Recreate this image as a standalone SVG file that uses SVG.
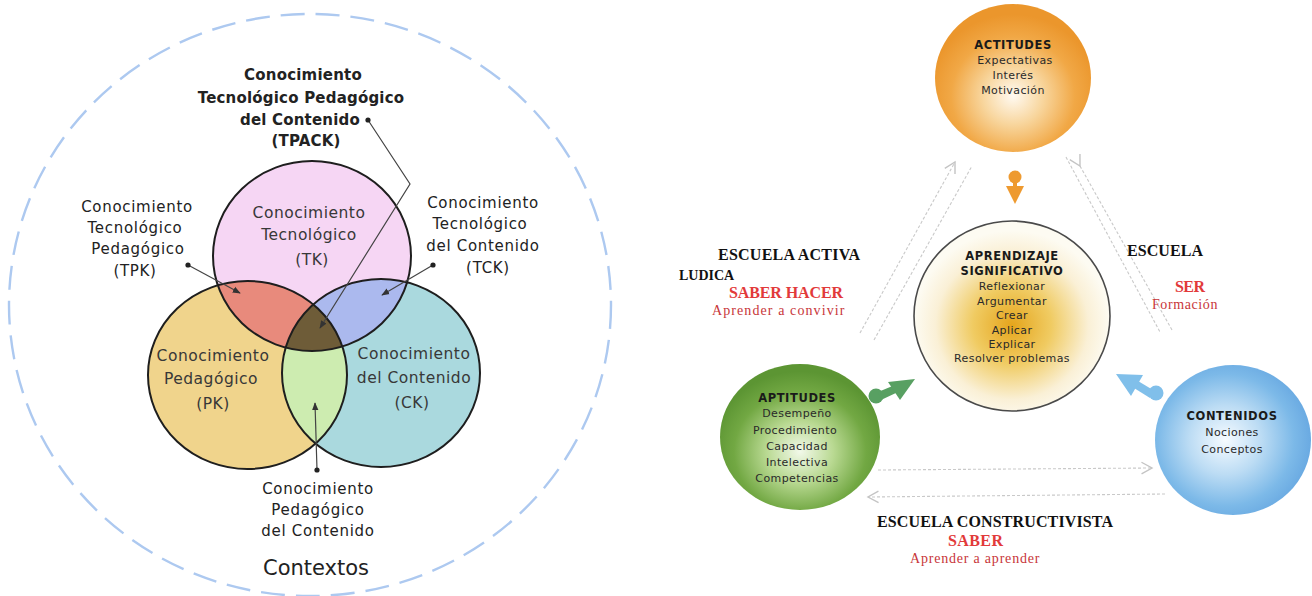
<svg xmlns="http://www.w3.org/2000/svg" width="1312" height="596" viewBox="0 0 1312 596">
  <style>
    .venn { font-family: "DejaVu Sans", "Liberation Sans", sans-serif; font-size: 15.5px; fill: #383838; text-anchor: middle; letter-spacing: 0.5px; }
    .lbl { font-family: "DejaVu Sans", "Liberation Sans", sans-serif; font-size: 15px; fill: #222; text-anchor: middle; letter-spacing: 0.7px; }
    .lblb { font-family: "DejaVu Sans", "Liberation Sans", sans-serif; font-size: 15px; font-weight: bold; fill: #222; text-anchor: middle; letter-spacing: 0.2px; }
    .ctx { font-family: "DejaVu Sans", "Liberation Sans", sans-serif; font-size: 21px; fill: #222; text-anchor: middle; }
    .edge { fill: none; stroke: #1e1e1e; stroke-width: 2; }
    .lead { fill: none; stroke: #444; stroke-width: 1.2; }
    .ntit { font-family: "DejaVu Sans", "Liberation Sans", sans-serif; font-size: 11.5px; font-weight: bold; fill: #1a1a1a; text-anchor: middle; letter-spacing: 0.6px; }
    .ntxt { font-family: "DejaVu Sans", "Liberation Sans", sans-serif; font-size: 11px; fill: #2a2a2a; text-anchor: middle; letter-spacing: 0.4px; }
    .esc { font-family: "Liberation Serif", "Times New Roman", serif; font-size: 16px; font-weight: bold; fill: #111; }
    .red { font-family: "Liberation Serif", "Times New Roman", serif; font-size: 16px; font-weight: bold; fill: #e23a3a; }
    .redt { font-family: "Liberation Serif", "Times New Roman", serif; font-size: 14px; fill: #c8363a; letter-spacing: 0.6px; }
    .band { fill: none; stroke: #c9c9c9; stroke-width: 1.1; stroke-dasharray: 3 2; }
  </style>
  <defs>
    <marker id="dot" viewBox="0 0 6 6" refX="3" refY="3" markerWidth="6" markerHeight="6" markerUnits="userSpaceOnUse">
      <circle cx="3" cy="3" r="2.6" fill="#222"/>
    </marker>
    <marker id="tip" viewBox="0 0 10 10" refX="9" refY="5" markerWidth="8" markerHeight="8" orient="auto" markerUnits="userSpaceOnUse">
      <path d="M0,1 L10,5 L0,9 Z" fill="#333"/>
    </marker>
    <marker id="open" viewBox="0 0 12 12" refX="10" refY="6" markerWidth="14" markerHeight="14" orient="auto" markerUnits="userSpaceOnUse">
      <path d="M1,1 L10,6 L1,11" fill="none" stroke="#c4c4c4" stroke-width="1.2"/>
    </marker>
    <ellipse id="eTK" cx="312" cy="256" rx="99" ry="95"/>
    <ellipse id="ePK" cx="247.5" cy="375" rx="99.5" ry="94"/>
    <ellipse id="eCK" cx="381" cy="373" rx="99" ry="94"/>
    <clipPath id="cTK"><use href="#eTK"/></clipPath>
    <clipPath id="cPK"><use href="#ePK"/></clipPath>
    <clipPath id="cCK"><use href="#eCK"/></clipPath>
    <radialGradient id="gOrange" cx="0.5" cy="0.62" r="0.55">
      <stop offset="0" stop-color="#fffaf2"/>
      <stop offset="0.35" stop-color="#f8d69e"/>
      <stop offset="0.72" stop-color="#f1a846"/>
      <stop offset="1" stop-color="#eb962c"/>
    </radialGradient>
    <radialGradient id="gGreen" cx="0.5" cy="0.6" r="0.55">
      <stop offset="0" stop-color="#f2f9ea"/>
      <stop offset="0.38" stop-color="#b9d992"/>
      <stop offset="0.75" stop-color="#72a843"/>
      <stop offset="1" stop-color="#5c9533"/>
    </radialGradient>
    <radialGradient id="gBlue" cx="0.45" cy="0.5" r="0.55">
      <stop offset="0" stop-color="#f6fbff"/>
      <stop offset="0.42" stop-color="#bcdcf4"/>
      <stop offset="0.8" stop-color="#7cb9e8"/>
      <stop offset="1" stop-color="#6aaae2"/>
    </radialGradient>
    <radialGradient id="gCore" cx="0.5" cy="0.55" r="0.5">
      <stop offset="0" stop-color="#e5a51c"/>
      <stop offset="0.4" stop-color="#f0cb62"/>
      <stop offset="0.78" stop-color="#faf0d6"/>
      <stop offset="1" stop-color="#fdfbf2"/>
    </radialGradient>
  </defs>

  <rect width="1312" height="596" fill="#ffffff"/>

  <!-- ===== TPACK model ===== -->
  <g id="contextos">
    <ellipse cx="310" cy="305" rx="301" ry="291" fill="none" stroke="#adc9f0" stroke-width="2.4" stroke-dasharray="24 11"/>
    <text class="ctx" x="316" y="575">Contextos</text>
  </g>

  <g id="venn">
    <use href="#ePK" fill="#f0d48c"/>
    <use href="#eCK" fill="#aad9de"/>
    <use href="#eTK" fill="#f6d6f4"/>
    <g clip-path="url(#cTK)"><use href="#ePK" fill="#e88a7c"/></g>
    <g clip-path="url(#cTK)"><use href="#eCK" fill="#abb9ee"/></g>
    <g clip-path="url(#cPK)"><use href="#eCK" fill="#cdecb0"/></g>
    <g clip-path="url(#cTK)"><g clip-path="url(#cPK)"><use href="#eCK" fill="#6e5c38"/></g></g>
    <use href="#ePK" class="edge"/>
    <use href="#eCK" class="edge"/>
    <use href="#eTK" class="edge"/>
  </g>

  <g id="tk">
    <text class="venn" x="309" y="218">Conocimiento</text>
    <text class="venn" x="309" y="240">Tecnológico</text>
    <text class="venn" x="312" y="265">(TK)</text>
  </g>
  <g id="pk">
    <text class="venn" x="213" y="361">Conocimiento</text>
    <text class="venn" x="211" y="384">Pedagógico</text>
    <text class="venn" x="213" y="409">(PK)</text>
  </g>
  <g id="ck">
    <text class="venn" x="414" y="359">Conocimiento</text>
    <text class="venn" x="414" y="383">del Contenido</text>
    <text class="venn" x="412" y="408">(CK)</text>
  </g>

  <g id="tpack">
    <text class="lblb" x="303" y="80">Conocimiento</text>
    <text class="lblb" x="301" y="103">Tecnológico Pedagógico</text>
    <text class="lblb" x="300" y="125">del Contenido</text>
    <text class="lblb" x="306" y="146">(TPACK)</text>
  </g>
  <g id="tpk">
    <text class="lbl" x="137" y="212">Conocimiento</text>
    <text class="lbl" x="135" y="233">Tecnológico</text>
    <text class="lbl" x="138" y="254">Pedagógico</text>
    <text class="lbl" x="135" y="276">(TPK)</text>
  </g>
  <g id="tck">
    <text class="lbl" x="483" y="208">Conocimiento</text>
    <text class="lbl" x="480" y="229">Tecnológico</text>
    <text class="lbl" x="483" y="251">del Contenido</text>
    <text class="lbl" x="488" y="273">(TCK)</text>
  </g>
  <g id="pck">
    <text class="lbl" x="318" y="494">Conocimiento</text>
    <text class="lbl" x="318" y="515">Pedagógico</text>
    <text class="lbl" x="318" y="536">del Contenido</text>
  </g>

  <g id="leaders">
    <polyline class="lead" points="368,120 410,184 320,328" marker-start="url(#dot)" marker-end="url(#tip)"/>
    <line class="lead" x1="188" y1="265" x2="240" y2="293" marker-start="url(#dot)" marker-end="url(#tip)"/>
    <line class="lead" x1="433" y1="265" x2="382" y2="295" marker-start="url(#dot)" marker-end="url(#tip)"/>
    <line class="lead" x1="317" y1="470" x2="315" y2="403" marker-start="url(#dot)" marker-end="url(#tip)"/>
  </g>

  <!-- ===== Learning triangle ===== -->
  <g id="connectors">
    <!-- left band: towards ACTITUDES -->
    <line class="band" x1="860" y1="333" x2="955" y2="162" marker-end="url(#open)"/>
    <line class="band" x1="874" y1="340" x2="972" y2="166"/>
    <!-- right band -->
    <line class="band" x1="1080" y1="166" x2="1172" y2="330" marker-start="url(#open)"/>
    <line class="band" x1="1066" y1="157" x2="1160" y2="332"/>
    <!-- bottom bands -->
    <line class="band" x1="878" y1="470" x2="1152" y2="468" marker-end="url(#open)"/>
    <line class="band" x1="1165" y1="494" x2="868" y2="497" marker-end="url(#open)"/>
  </g>

  <g id="actitudes">
    <ellipse cx="1013" cy="78" rx="78" ry="74" fill="url(#gOrange)"/>
    <text class="ntit" x="1013" y="49">ACTITUDES</text>
    <text class="ntxt" x="1015" y="64">Expectativas</text>
    <text class="ntxt" x="1013" y="79">Interés</text>
    <text class="ntxt" x="1013" y="94">Motivación</text>
  </g>
  <g id="arrow-actitudes" fill="#ee9a30">
    <circle cx="1015" cy="177" r="6.5"/>
    <rect x="1013" y="180" width="4" height="8"/>
    <path d="M1006,186 L1024,186 L1015,204 Z"/>
  </g>

  <g id="aprendizaje">
    <ellipse cx="1012" cy="316" rx="98" ry="95" fill="url(#gCore)" stroke="#4a4a4a" stroke-width="1.6"/>
    <text class="ntit" x="1012" y="260">APRENDIZAJE</text>
    <text class="ntit" x="1012" y="275">SIGNIFICATIVO</text>
    <text class="ntxt" x="1012" y="290">Reflexionar</text>
    <text class="ntxt" x="1012" y="305">Argumentar</text>
    <text class="ntxt" x="1012" y="319">Crear</text>
    <text class="ntxt" x="1012" y="334">Aplicar</text>
    <text class="ntxt" x="1012" y="348">Explicar</text>
    <text class="ntxt" x="1012" y="362">Resolver problemas</text>
  </g>

  <g id="aptitudes">
    <ellipse cx="800" cy="437" rx="80" ry="73" fill="url(#gGreen)"/>
    <text class="ntit" x="797" y="402">APTITUDES</text>
    <text class="ntxt" x="797" y="417">Desempeño</text>
    <text class="ntxt" x="795" y="434">Procedimiento</text>
    <text class="ntxt" x="797" y="450">Capacidad</text>
    <text class="ntxt" x="797" y="466">Intelectiva</text>
    <text class="ntxt" x="797" y="482">Competencias</text>
  </g>
  <g id="arrow-aptitudes" fill="#58a062">
    <circle cx="876" cy="396" r="7.5"/>
    <path d="M878,392 L895,385 L898,392 L881,400 Z"/>
    <path d="M888,382 L915,379 L900,400 Z"/>
  </g>

  <g id="contenidos">
    <ellipse cx="1233" cy="440" rx="78" ry="75" fill="url(#gBlue)"/>
    <text class="ntit" x="1232" y="420">CONTENIDOS</text>
    <text class="ntxt" x="1232" y="436">Nociones</text>
    <text class="ntxt" x="1232" y="453">Conceptos</text>
  </g>
  <g id="arrow-contenidos" fill="#80bfea">
    <circle cx="1156" cy="393" r="7.5"/>
    <path d="M1153,390 L1138,381 L1134,388 L1150,398 Z"/>
    <path d="M1116,374 L1143,375 L1131,396 Z"/>
  </g>

  <g id="escuela-activa">
    <text class="esc" x="718" y="260" textLength="142">ESCUELA ACTIVA</text>
    <text class="esc" x="679" y="280" style="font-size:14px">LUDICA</text>
    <text class="red" x="729" y="298" textLength="114">SABER HACER</text>
    <text class="redt" x="712" y="315" textLength="133">Aprender a convivir</text>
  </g>
  <g id="escuela">
    <text class="esc" x="1127" y="256" textLength="76">ESCUELA</text>
    <text class="red" x="1175" y="292" textLength="30">SER</text>
    <text class="redt" x="1152" y="309" textLength="66">Formación</text>
  </g>
  <g id="escuela-constructivista">
    <text class="esc" x="877" y="527" textLength="236">ESCUELA CONSTRUCTIVISTA</text>
    <text class="red" x="948" y="546" textLength="55">SABER</text>
    <text class="redt" x="910" y="563" textLength="130">Aprender a aprender</text>
  </g>
</svg>
